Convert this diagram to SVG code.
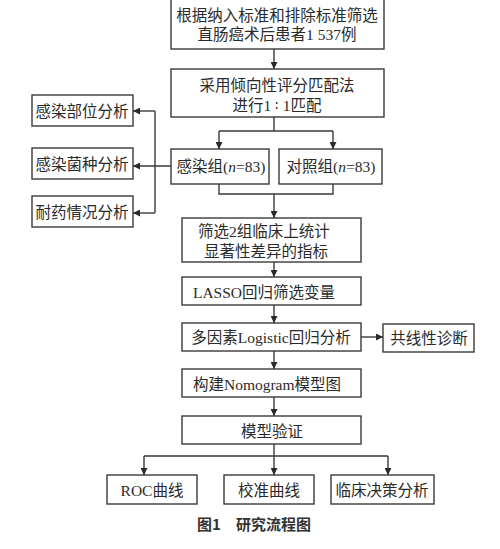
<svg xmlns="http://www.w3.org/2000/svg" width="500" height="549" viewBox="0 0 500 549">
<style>
.box{fill:#fff;stroke:#3a3a3a;stroke-width:1.4}
.t{font-family:"Liberation Serif","Noto Sans CJK SC",serif;font-size:15.5px;fill:#2a2a2a;text-anchor:middle;dominant-baseline:central}
.ln{fill:none;stroke:#3a3a3a;stroke-width:1.4}
.cap{font-family:"Noto Sans CJK SC",sans-serif;font-size:15px;font-weight:bold;fill:#333;text-anchor:middle;dominant-baseline:central}
</style>
<defs>
<marker id="ah" viewBox="0 0 10 10" refX="10" refY="5" markerWidth="7" markerHeight="7" markerUnits="userSpaceOnUse" orient="auto">
<path d="M0,0L10,5L0,10z" fill="#2a2a2a"/>
</marker>
</defs>
<g id="connectors">
<path class="ln" d="M274,49V69" marker-end="url(#ah)"/>
<path class="ln" d="M274,117V131M219,131H333M219,131V149" marker-end="url(#ah)"/>
<path class="ln" d="M333,131V149" marker-end="url(#ah)"/>
<path class="ln" d="M219,184V194H333V184M274,194V218" marker-end="url(#ah)"/>
<path class="ln" d="M171,166H133" marker-end="url(#ah)"/>
<path class="ln" d="M155,111V213"/>
<path class="ln" d="M155,111H133" marker-end="url(#ah)"/>
<path class="ln" d="M155,213H133" marker-end="url(#ah)"/>
<path class="ln" d="M274,262V277" marker-end="url(#ah)"/>
<path class="ln" d="M274,305V323" marker-end="url(#ah)"/>
<path class="ln" d="M361,337H383" marker-end="url(#ah)"/>
<path class="ln" d="M274,351V369" marker-end="url(#ah)"/>
<path class="ln" d="M274,397V416" marker-end="url(#ah)"/>
<path class="ln" d="M274,444V456M144,456H388M144,456V475" marker-end="url(#ah)"/>
<path class="ln" d="M274,456V475" marker-end="url(#ah)"/>
<path class="ln" d="M388,456V475" marker-end="url(#ah)"/>
</g>
<g id="n1"><rect class="box" x="171" y="-2" width="213" height="51"/><text class="t" x="277" y="15">根据纳入标准和排除标准筛选</text><text class="t" x="277" y="34">直肠癌术后患者1 537例</text></g>
<g id="n2"><rect class="box" x="171" y="69" width="213" height="48"/><text class="t" x="277" y="85">采用倾向性评分匹配法</text><text class="t" x="277" y="105">进行1<tspan font-family="DejaVu Serif" font-size="13px"> ∶ </tspan>1匹配</text></g>
<g id="n3"><rect class="box" x="171" y="149" width="98" height="35"/><text class="t" x="221" y="166">感染组(<tspan font-style="italic">n</tspan>=83)</text></g>
<g id="n4"><rect class="box" x="279" y="149" width="103" height="35"/><text class="t" x="331" y="166">对照组(<tspan font-style="italic">n</tspan>=83)</text></g>
<g id="n5"><rect class="box" x="32" y="95" width="101" height="31"/><text class="t" x="82" y="111">感染部位分析</text></g>
<g id="n6"><rect class="box" x="32" y="148" width="101" height="31"/><text class="t" x="82" y="164">感染菌种分析</text></g>
<g id="n7"><rect class="box" x="32" y="196" width="101" height="31"/><text class="t" x="82" y="212">耐药情况分析</text></g>
<g id="n8"><rect class="box" x="182" y="218" width="179" height="44"/><text class="t" x="264" y="231">筛选2组临床上统计</text><text class="t" x="266" y="251">显著性差异的指标</text></g>
<g id="n9"><rect class="box" x="182" y="277" width="179" height="28"/><text class="t" x="264" y="292">LASSO回归筛选变量</text></g>
<g id="n10"><rect class="box" x="182" y="323" width="179" height="28"/><text class="t" x="271" y="337">多因素Logistic回归分析</text></g>
<g id="n11"><rect class="box" x="383" y="324" width="91" height="28"/><text class="t" x="429" y="338">共线性诊断</text></g>
<g id="n12"><rect class="box" x="182" y="369" width="179" height="28"/><text class="t" x="267" y="384">构建Nomogram模型图</text></g>
<g id="n13"><rect class="box" x="182" y="416" width="179" height="28"/><text class="t" x="272" y="431">模型验证</text></g>
<g id="n14"><rect class="box" x="107" y="475" width="90" height="29"/><text class="t" x="152" y="490">ROC曲线</text></g>
<g id="n15"><rect class="box" x="224" y="475" width="90" height="29"/><text class="t" x="269" y="490">校准曲线</text></g>
<g id="n16"><rect class="box" x="331" y="475" width="103" height="29"/><text class="t" x="382" y="490">临床决策分析</text></g>
<text class="cap" x="254" y="523">图1　研究流程图</text>
</svg>
